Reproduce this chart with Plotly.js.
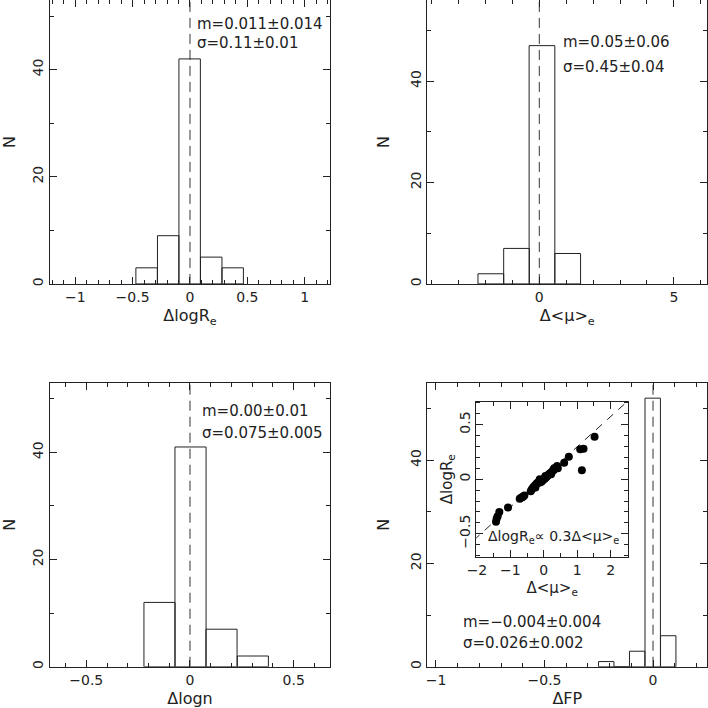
<!DOCTYPE html>
<html>
<head>
<meta charset="utf-8">
<script src="https://cdn.plot.ly/plotly-3.0.1.min.js"></script>
<style>
html, body { margin: 0; padding: 0; background: #fff; }
#plot { width: 708px; height: 708px; }
</style>
</head>
<body>
<div id="plot"></div>
<script>
// histogram bins: centres, counts, bin width
var reCenters = [-0.378, -0.19, -0.003, 0.185, 0.372];
var reCounts = [3, 9, 42, 5, 3];
var reWidth = 0.187;

var muCenters = [-1.80, -0.845, 0.10, 1.055];
var muCounts = [2, 7, 47, 6];
var muWidth = 0.955;

var nCenters = [-0.147, 0.0025, 0.152, 0.303];
var nCounts = [12, 41, 7, 2];
var nWidth = 0.15;

var fpCenters = [-0.2155, -0.144, -0.073, -0.0015, 0.070];
var fpCounts = [1, 0, 3, 52, 6];
var fpWidth = 0.071;

// mean / scatter labels
var statsRe = ['m=0.011±0.014', 'σ=0.11±0.01'];
var statsMu = ['m=0.05±0.06', 'σ=0.45±0.04'];
var statsN = ['m=0.00±0.01', 'σ=0.075±0.005'];
var statsFp = ['m=−0.004±0.004', 'σ=0.026±0.002'];

// inset: Δ<μ>e vs ΔlogRe
var insetX = [-1.43, -1.41, -1.38, -1.33, -1.07, -0.72, -0.68, -0.65, -0.62, -0.58,
  -0.39, -0.36, -0.33, -0.30, -0.27, -0.24, -0.21, -0.19, -0.16, -0.14,
  -0.12, -0.10, -0.08, -0.06, -0.04, -0.02, 0.00, 0.02, 0.04, 0.06,
  0.08, 0.10, 0.12, 0.15, 0.18, 0.21, 0.24, 0.27, 0.30, 0.33,
  0.36, 0.40, 0.42, 0.61, 0.75, 1.09, 1.14, 1.19, 1.52, -0.11,
  0.05, 0.22, -0.25, 0.31];
var insetY = [-0.39, -0.36, -0.34, -0.30, -0.26, -0.18, -0.17, -0.165, -0.16, -0.15,
  -0.11, -0.095, -0.08, -0.07, -0.06, -0.05, -0.04, -0.035, -0.025, -0.02,
  0.00, -0.01, -0.015, -0.02, -0.01, -0.005, 0.00, 0.005, 0.012, 0.015,
  0.02, 0.03, 0.035, 0.045, 0.05, 0.06, 0.065, 0.08, 0.085, 0.095,
  0.105, 0.12, 0.10, 0.15, 0.205, 0.275, 0.083, 0.28, 0.39, -0.03,
  0.03, 0.045, -0.075, 0.10];
var relLineX = [-2.1, 2.6];
var relLineY = [-0.56, 0.74];

var F = 'DejaVu Sans, sans-serif';
var INK = '#222';

function bars(x, y, w, xa, ya) {
  return {
    type: 'bar', x: x, y: y, width: w, xaxis: xa, yaxis: ya,
    marker: {color: 'rgba(0,0,0,0)', line: {color: INK, width: 1}},
    hoverinfo: 'skip'
  };
}

function zeroLine(top, xa, ya) {
  return {
    type: 'scatter', mode: 'lines', x: [0, 0], y: [0, top], xaxis: xa, yaxis: ya,
    line: {color: '#333', width: 1, dash: '10px,6px'}, hoverinfo: 'skip'
  };
}

var data = [
  bars(reCenters, reCounts, reWidth, 'x', 'y'),
  zeroLine(60, 'x', 'y'),
  bars(muCenters, muCounts, muWidth, 'x2', 'y2'),
  zeroLine(60, 'x2', 'y2'),
  bars(nCenters, nCounts, nWidth, 'x3', 'y3'),
  zeroLine(60, 'x3', 'y3'),
  bars(fpCenters, fpCounts, fpWidth, 'x4', 'y4'),
  zeroLine(60, 'x4', 'y4'),
  {
    type: 'scatter', mode: 'lines', x: relLineX, y: relLineY, xaxis: 'x5', yaxis: 'y5',
    line: {color: INK, width: 1, dash: '8px,7px'}, hoverinfo: 'skip'
  },
  {
    type: 'scatter', mode: 'markers', x: insetX, y: insetY, xaxis: 'x5', yaxis: 'y5',
    marker: {color: '#000', size: 8}, hoverinfo: 'skip'
  }
];

function axis(o) {
  var base = {
    showline: true, linecolor: INK, linewidth: 1, mirror: 'allticks',
    ticks: 'inside', ticklen: 7, tickwidth: 1, tickcolor: INK,
    showgrid: false, zeroline: false, fixedrange: true,
    tickfont: {family: F, size: 14, color: INK}
  };
  for (var k in o) base[k] = o[k];
  base.minor = {ticks: 'inside', ticklen: 4, tickcolor: INK, showgrid: false, dtick: o.minorStep};
  delete base.minorStep;
  return base;
}

function ttl(t, size, standoff) {
  return {text: t, font: {family: F, size: size, color: INK}, standoff: standoff};
}

var topY = [0.599, 1.0];
var botY = [0.0583, 0.4595];
var leftX = [0.0706, 0.4661];
var rightX = [0.6035, 0.999];

var layout = {
  width: 708, height: 708,
  margin: {l: 0, r: 0, t: 0, b: 0},
  paper_bgcolor: '#fff', plot_bgcolor: 'rgba(0,0,0,0)',
  showlegend: false, hovermode: false, barmode: 'overlay',
  xaxis: axis({domain: leftX, anchor: 'y', range: [-1.22, 1.22], dtick: 0.5, minorStep: 0.1,
    title: ttl('ΔlogR<sub>e</sub>', 16, 6)}),
  yaxis: axis({domain: topY, anchor: 'x', range: [0, 53], dtick: 20, minorStep: 10, tickangle: -90,
    title: ttl('N', 16, 14)}),
  xaxis2: axis({domain: rightX, anchor: 'y2', range: [-4.16, 6.24], dtick: 5, minorStep: 1,
    title: ttl('Δ&lt;μ&gt;<sub>e</sub>', 16, 6)}),
  yaxis2: axis({domain: topY, anchor: 'x2', range: [0, 56], dtick: 20, minorStep: 10, tickangle: -90,
    title: ttl('N', 16, 14)}),
  xaxis3: axis({domain: leftX, anchor: 'y3', range: [-0.675, 0.675], dtick: 0.5, minorStep: 0.1,
    title: ttl('Δlogn', 16, 6)}),
  yaxis3: axis({domain: botY, anchor: 'x3', range: [0, 53], dtick: 20, minorStep: 10, tickangle: -90,
    title: ttl('N', 16, 14)}),
  xaxis4: axis({domain: rightX, anchor: 'y4', range: [-1.04, 0.25], dtick: 0.5, minorStep: 0.1,
    title: ttl('ΔFP', 16, 6)}),
  yaxis4: axis({domain: botY, anchor: 'x4', range: [0, 55], dtick: 20, minorStep: 10, tickangle: -90,
    title: ttl('N', 16, 14)}),
  xaxis5: axis({domain: [0.6727, 0.887], anchor: 'y5', range: [-2.02, 2.52], dtick: 1, minorStep: 0.5,
    title: ttl('Δ&lt;μ&gt;<sub>e</sub>', 15, 5)}),
  yaxis5: axis({domain: [0.2137, 0.4326], anchor: 'x5', range: [-0.71, 0.71], dtick: 0.5, minorStep: 0.1,
    tickangle: -90, title: ttl('ΔlogR<sub>e</sub>', 15, 0)}),
  annotations: []
};

function stats(lines, xa, ya, x, y1, y2) {
  [y1, y2].forEach(function (y, i) {
    layout.annotations.push({
      text: lines[i], xref: xa, yref: ya, x: x, y: y,
      xanchor: 'left', yanchor: 'middle', showarrow: false,
      font: {family: F, size: 15, color: INK}
    });
  });
}
stats(statsRe, 'x', 'y', 0.044, 48.6, 44.9);
stats(statsMu, 'x2', 'y2', 0.82, 47.8, 42.8);
stats(statsN, 'x3', 'y3', 0.048, 47.7, 43.6);
stats(statsFp, 'x4', 'y4', -0.885, 8.6, 4.5);

layout.annotations.push({
  text: 'ΔlogR<sub>e</sub>∝ 0.3Δ&lt;μ&gt;<sub>e</sub>', xref: 'x5', yref: 'y5', x: 0.28, y: -0.53,
  xanchor: 'center', yanchor: 'middle', showarrow: false,
  font: {family: F, size: 14, color: INK}
});

Plotly.newPlot('plot', data, layout, {staticPlot: true});
</script>
</body>
</html>
